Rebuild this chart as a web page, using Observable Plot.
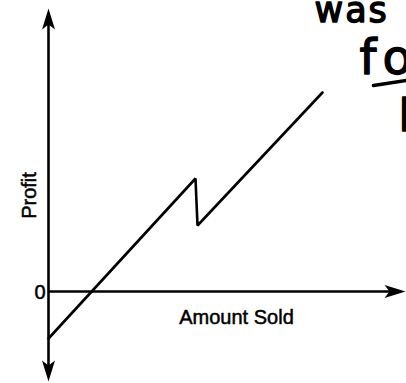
<!DOCTYPE html>
<html><head><meta charset="utf-8">
<script src="https://cdn.jsdelivr.net/npm/d3@7"></script>
<script src="https://cdn.jsdelivr.net/npm/@observablehq/plot@0.6"></script>
<style>html,body{margin:0;padding:0;background:#fff;}</style>
</head><body><div id="chart"></div>
<script>
// Profit vs amount sold (arbitrary units)
const amountSold = [0, 147, 149, 274];
const profit = [-47, 113, 66, 199];
const yTicks = [0];
const xLabel = "Amount Sold";
const yLabel = "Profit";
// axis extents (data units)
const xAxisEnd = 357;
const yAxisTop = 283;
const yAxisBottom = -90;
// handwritten annotation fragments (data coordinates)
const noteText = ["was", "fo", "l"];
const noteX = [266, 311, 350];
const noteY = [270, 218, 161];
const underlineX = [325, 358];
const underlineY = [206, 211];

const series = amountSold.map((x, i) => ({x, y: profit[i]}));
const notes = noteText.map((t, i) => ({t, x: noteX[i], y: noteY[i]}));

const arrowHead = {
  draw(ctx) {
    ctx.moveTo(0, 0);
    ctx.lineTo(6.5, 21);
    ctx.lineTo(0, 16);
    ctx.lineTo(-6.5, 21);
    ctx.closePath();
  }
};
const heads = [
  {x: 0, y: yAxisTop, r: 0},
  {x: 0, y: yAxisBottom, r: 180},
  {x: xAxisEnd, y: 0, r: 90}
];
const hand = {textAnchor: "start", lineAnchor: "bottom", fontFamily: "'DejaVu Sans', sans-serif", fill: "#000", stroke: "#000", strokeWidth: 1.4};
const lbl = {fontSize: 20, fill: "#000", stroke: "#000", strokeWidth: 0.5};

const chart = Plot.plot({
  width: 406,
  height: 383,
  margin: 0,
  style: {fontFamily: "'Liberation Sans', Arial, sans-serif", background: "#fff", color: "#000"},
  x: {domain: [-48, 358], axis: null},
  y: {domain: [-92, 291], axis: null},
  marks: [
    Plot.ruleX([0], {y1: yAxisBottom + 6, y2: yAxisTop - 6, stroke: "#000", strokeWidth: 2.6}),
    Plot.ruleY([0], {x1: 0, x2: xAxisEnd - 6, stroke: "#000", strokeWidth: 2.6}),
    Plot.dot(heads, {x: "x", y: "y", rotate: "r", symbol: arrowHead, fill: "#000", stroke: "none"}),
    Plot.line(series, {x: "x", y: "y", stroke: "#000", strokeWidth: 2.6, strokeLinejoin: "miter"}),
    Plot.text(yTicks, {x: 0, y: d => d, text: d => String(d), dx: -3, dy: 7, textAnchor: "end", lineAnchor: "bottom", ...lbl}),
    Plot.text([xLabel], {x: 188, y: -32, text: d => d, textAnchor: "middle", lineAnchor: "bottom", ...lbl}),
    Plot.text([yLabel], {x: -13, y: 96, text: d => d, rotate: -90, textAnchor: "middle", lineAnchor: "bottom", ...lbl}),
    Plot.text(notes.slice(0, 1), {x: "x", y: "y", text: "t", fontSize: 35, ...hand}),
    Plot.text(notes.slice(1, 2), {x: "x", y: "y", text: "t", fontSize: 48, ...hand}),
    Plot.text(notes.slice(2, 3), {x: "x", y: "y", text: "t", fontSize: 44, ...hand}),
    Plot.link([0], {x1: underlineX[0], y1: underlineY[0], x2: underlineX[1], y2: underlineY[1], stroke: "#000", strokeWidth: 3.5, strokeLinecap: "round"})
  ]
});
// hand-written look: slightly wider letter spacing
const spacing = {"was": 2, "fo": 6};
d3.select(chart).selectAll("text").each(function () {
  const s = spacing[this.textContent];
  if (s != null) this.setAttribute("letter-spacing", s);
});
document.getElementById("chart").append(chart);
</script>
</body></html>
